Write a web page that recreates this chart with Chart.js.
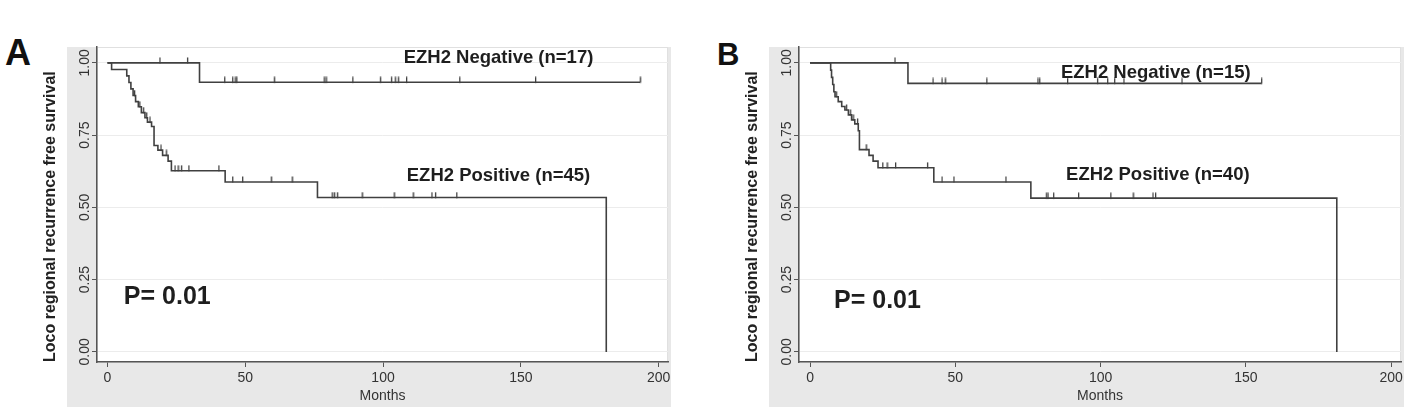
<!DOCTYPE html>
<html><head><meta charset="utf-8">
<script src="https://cdn.jsdelivr.net/npm/chart.js@4.4.1/dist/chart.umd.min.js"></script>
<style>
html,body{margin:0;padding:0;background:#fff;width:1422px;height:407px;overflow:hidden;position:relative}
canvas{position:absolute}
.lab{position:absolute;font-family:'Liberation Sans',Arial,sans-serif;font-weight:bold;color:#111}
</style></head><body>
<div class="lab" style="left:5px;top:35px;font-size:36px;line-height:36px">A</div>
<div class="lab" style="left:717px;top:39px;font-size:31px;line-height:31px">B</div>
<canvas id="cA" width="643" height="367" style="left:30px;top:40px"></canvas>
<canvas id="cB" width="674" height="367" style="left:732px;top:40px"></canvas>
<script>
// ---- tick labels ----
const xTicks = [0, 50, 100, 150, 200];
const yTicks = [0, 0.25, 0.5, 0.75, 1];

// ---- Panel A ----
const aNegTimes = [0, 33.4, 193.3];
const aNegSurv  = [1, 0.933, 0.933];
const aNegCensor = [19, 29, 42.5, 45.4, 46.3, 46.9, 60.5, 78.6, 79.3, 89, 99, 103, 104.4, 105.5, 108.5, 127.8, 155.3, 193.3];

const aPosTimes = [0, 1.5, 7, 7.8, 8.5, 9.3, 10.2, 11.2, 12.3, 13.6, 14.5, 16, 16.9, 18.3, 20, 22, 23.2, 42.7, 76.2, 181];
const aPosSurv  = [1, 0.977, 0.955, 0.932, 0.91, 0.887, 0.866, 0.848, 0.828, 0.81, 0.795, 0.78, 0.714, 0.698, 0.68, 0.66, 0.627, 0.588, 0.534, 0];
const aPosCensor = [9.8, 11.7, 13, 14.2, 15.4, 19.4, 21.3, 24.5, 25.6, 26.8, 29.5, 40.4, 45.4, 49, 59.4, 67, 81.5, 82.3, 83.4, 92.4, 104, 110.9, 117.7, 119, 126.7];

// ---- Panel B ----
const bNegTimes = [0, 33.7, 155.4];
const bNegSurv  = [1, 0.929, 0.929];
const bNegCensor = [29.2, 42.3, 45.4, 46.5, 60.8, 78.4, 79, 88.6, 98.9, 102.4, 104.8, 108, 128, 155.4];

const bPosTimes = [0, 7.1, 7.4, 7.8, 8.2, 8.6, 9.7, 10.9, 12, 13.2, 14.3, 15.4, 16.6, 17, 20.3, 21.7, 23.4, 42.6, 76, 181.3];
const bPosSurv  = [1, 0.975, 0.95, 0.925, 0.9, 0.883, 0.866, 0.849, 0.837, 0.82, 0.803, 0.789, 0.765, 0.70, 0.68, 0.66, 0.637, 0.588, 0.532, 0];
const bPosCensor = [9, 12.5, 13.8, 14.8, 16.3, 19.3, 25, 26.5, 29.4, 40.4, 45.4, 49.5, 67.4, 81.3, 81.9, 83.8, 92.4, 103.5, 111.2, 118, 118.9];

const FF = "'Liberation Sans', Arial, Helvetica, sans-serif";
const LINE = '#404040';
const AX = '#555555';

function curve(ts, ss) { return ts.map((t, i) => ({x: t, y: ss[i]})); }
function survAt(ts, ss, t) { let v = ss[0]; for (let i = 0; i < ts.length; i++) { if (ts[i] <= t) v = ss[i]; } return v; }
function cens(ts, ss, cs) { return cs.map(t => ({x: t, y: survAt(ts, ss, t)})); }

function makeTick() {
  const c = document.createElement('canvas');
  c.width = 3; c.height = 12;
  const g = c.getContext('2d');
  g.fillStyle = LINE;
  g.fillRect(1, 0.5, 1.3, 6);
  return c;
}
const tickImg = makeTick();

const bgPlugin = {
  id: 'bg',
  beforeDraw(chart) {
    const {ctx, chartArea: a} = chart;
    ctx.save();
    ctx.fillStyle = '#e8e8e8';
    ctx.fillRect(a.left - 30, a.top, (a.right + 3) - (a.left - 30), chart.height - a.top);
    ctx.fillStyle = '#ffffff';
    ctx.fillRect(a.left, a.top, a.right - a.left, a.bottom - a.top);
    ctx.strokeStyle = '#e0e0e0';
    ctx.lineWidth = 1;
    ctx.strokeRect(a.left + 0.5, a.top + 0.5, a.right - a.left - 1, a.bottom - a.top);
    ctx.restore();
  }
};

const notesPlugin = {
  id: 'notes',
  afterDatasetsDraw(chart, args, opts) {
    const {ctx} = chart;
    const x = chart.scales.x, y = chart.scales.y;
    ctx.save();
    ctx.fillStyle = '#1e1e1e';
    ctx.textAlign = 'center';
    ctx.textBaseline = 'middle';
    for (const n of opts.items) {
      ctx.font = 'bold ' + n.size + 'px ' + FF;
      ctx.fillText(n.text, x.getPixelForValue(n.x), y.getPixelForValue(n.y));
    }
    ctx.restore();
  }
};

function makeChart(id, negT, negS, negC, posT, posS, posC, notes) {
  const lineDs = (d) => ({data: d, showLine: true, stepped: 'before', borderColor: LINE, borderWidth: 1.6, pointRadius: 0, fill: false});
  const tickDs = (d) => ({data: d, showLine: false, pointStyle: tickImg, pointRadius: 3, borderColor: LINE, backgroundColor: LINE});
  return new Chart(document.getElementById(id), {
    type: 'scatter',
    data: {datasets: [
      lineDs(curve(negT, negS)),
      lineDs(curve(posT, posS)),
      tickDs(cens(negT, negS, negC)),
      tickDs(cens(posT, posS, posC))
    ]},
    options: {
      responsive: false, animation: false, devicePixelRatio: 1, events: [],
      layout: {padding: {left: 0, right: 3, top: 7, bottom: 0}},
      plugins: {legend: {display: false}, tooltip: {enabled: false}, notes: {items: notes}},
      scales: {
        x: {
          type: 'linear', min: -3.8, max: 203.4,
          afterBuildTicks: s => { s.ticks = xTicks.map(v => ({value: v})); },
          afterFit: s => { s.height = 45; s.paddingLeft = 0; s.paddingRight = 0; },
          grid: {drawOnChartArea: false, drawTicks: true, tickLength: 5, tickColor: AX, tickWidth: 1},
          border: {color: AX, width: 1.5},
          ticks: {font: {family: FF, size: 14}, color: '#333', padding: 3, maxRotation: 0, autoSkip: false},
          title: {display: true, text: 'Months', font: {family: FF, size: 14}, color: '#333', padding: {top: 0, bottom: 2}}
        },
        y: {
          type: 'linear', min: -0.035, max: 1.055,
          afterBuildTicks: s => { s.ticks = yTicks.map(v => ({value: v})); },
          afterFit: s => { s.width = 67; s.paddingTop = 0; s.paddingBottom = 0; },
          grid: {color: '#ececec', lineWidth: 1, drawTicks: true, tickLength: 5, tickColor: AX, tickWidth: 1},
          border: {color: AX, width: 1.5},
          ticks: {font: {family: FF, size: 14}, color: '#333', minRotation: 90, maxRotation: 90, crossAlign: 'center', padding: -7, autoSkip: false, callback: v => Number(v).toFixed(2)},
          title: {display: true, text: 'Loco regional recurrence free survival', align: 'start', font: {family: FF, size: 16, weight: 'bold'}, color: '#222', padding: {top: 11.4, bottom: 0}}
        }
      }
    },
    plugins: [bgPlugin, notesPlugin]
  });
}

makeChart('cA', aNegTimes, aNegSurv, aNegCensor, aPosTimes, aPosSurv, aPosCensor, [
  {text: 'EZH2 Negative (n=17)', x: 141.9, y: 1.017, size: 18.5},
  {text: 'EZH2 Positive (n=45)', x: 141.9, y: 0.609, size: 18.5},
  {text: 'P= 0.01', x: 21.7, y: 0.19, size: 25}
]);
makeChart('cB', bNegTimes, bNegSurv, bNegCensor, bPosTimes, bPosSurv, bPosCensor, [
  {text: 'EZH2 Negative (n=15)', x: 119, y: 0.965, size: 18.5},
  {text: 'EZH2 Positive (n=40)', x: 119.7, y: 0.612, size: 18.5},
  {text: 'P= 0.01', x: 23.2, y: 0.176, size: 25}
]);
</script>
</body></html>
